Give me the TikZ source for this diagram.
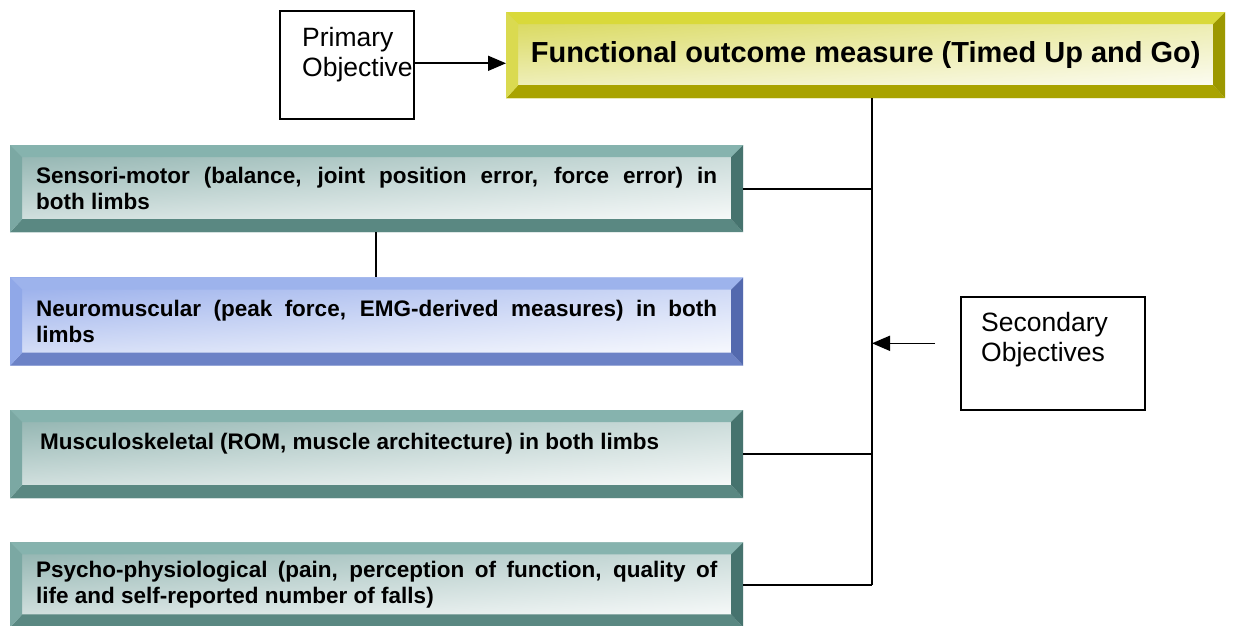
\documentclass[tikz,border=0pt]{standalone}
\usepackage{fontspec}
\setmainfont{Liberation Sans}
\usetikzlibrary{positioning,arrows.meta,calc,shadings}
\tolerance=10000
\hbadness=10000

\definecolor{tealtop}{HTML}{86B3AE}
\definecolor{tealleft}{HTML}{7BA8A3}
\definecolor{tealbot}{HTML}{5A8882}
\definecolor{tealright}{HTML}{46736E}
\definecolor{tealin}{HTML}{8AAFAB}
\definecolor{bluetop}{HTML}{9DB3EC}
\definecolor{blueleft}{HTML}{90A8E8}
\definecolor{bluebot}{HTML}{6C82C6}
\definecolor{blueright}{HTML}{5369AE}
\definecolor{bluein}{HTML}{93AAEA}
\definecolor{yeltop}{HTML}{D9D93A}
\definecolor{yelleft}{HTML}{DADA50}
\definecolor{yelbot}{HTML}{A9A300}
\definecolor{yelright}{HTML}{9C9800}
\definecolor{yelin}{HTML}{D6D650}

\begin{document}
\begin{tikzpicture}[
    x=1pt, y=-1pt,
    >={Triangle[length=18pt,width=15pt]},
    conn/.style={line width=1.6pt},
    objbox/.style={draw, line width=1.6pt, anchor=north west, inner sep=0pt},
    objtext/.style={anchor=north west, inner sep=0pt, align=left,
      font=\fontsize{26.5}{30.5}\selectfont},
    bevel/.style={fill=white, inner sep=0pt, anchor=north west,
      path picture={
        \coordinate (bva) at (path picture bounding box.north west);
        \coordinate (bvb) at (path picture bounding box.north east);
        \coordinate (bvc) at (path picture bounding box.south east);
        \coordinate (bvd) at (path picture bounding box.south west);
        \shade[upper left=#1in, upper right=#1in!50!white,
          lower left=#1in!30!white, lower right=white] (bva) rectangle (bvc);
        \fill[#1top] (bva) -- (bvb) -- ($(bvb)+(-12pt,-12pt)$) -- ($(bva)+(12pt,-12pt)$) -- cycle;
        \fill[#1bot] (bvd) -- (bvc) -- ($(bvc)+(-12pt,13pt)$) -- ($(bvd)+(12pt,13pt)$) -- cycle;
        \fill[#1left] (bva) -- ($(bva)+(12pt,-12pt)$) -- ($(bvd)+(12pt,13pt)$) -- (bvd) -- cycle;
        \fill[#1right] (bvb) -- ($(bvb)+(-12pt,-12pt)$) -- ($(bvc)+(-12pt,13pt)$) -- (bvc) -- cycle;
      }},
    aim/.style={bevel=teal, minimum width=733pt, text width=681pt, align=justify,
      font=\bfseries\fontsize{22.5}{25.5}\selectfont}
  ]
    \useasboundingbox (0,0) rectangle (1243,626);

    % primary objective
    \node[objbox, minimum width=134pt, minimum height=108pt] (prim) at (279,10) {};
    \node[objtext] (primtxt) at ($(prim.north west)+(23,17)$) {Primary\\Objective};
    \node[bevel=yel, minimum width=719pt, minimum height=86pt,
      font=\bfseries\fontsize{29}{34}\selectfont] (tug) at (506,12)
      {Functional outcome measure (Timed Up and Go)};

    % secondary objectives
    \node[aim, minimum height=87pt] (sens) at (10,145)
      {Sensori-motor (balance, joint position error, force error) in\linebreak both limbs};
    \node[aim, bevel=blue, minimum height=88pt, below=45pt of sens.south west, anchor=north west] (neuro)
      {Neuromuscular (peak force, EMG-derived measures) in both\linebreak limbs};
    \node[aim, minimum height=88pt, below=44pt of neuro.south west, anchor=north west] (musc)
      {\hspace*{4pt}Musculoskeletal (ROM, muscle architecture) in both limbs\newline\mbox{}};
    \node[aim, minimum height=85pt, below=44pt of musc.south west, anchor=north west] (psych)
      {Psycho-physiological (pain, perception of function, quality of\linebreak life and self-reported number of falls)};

    \node[objbox, minimum width=184pt, minimum height=113pt] (sec) at (960,296) {};
    \node[objtext] (sectxt) at ($(sec.north west)+(21,16)$) {Secondary\\Objectives};

    \coordinate (trunk) at (872,0);
    \coordinate (link) at (376,0);
    \coordinate (priout) at ($(prim.east)+(0,-1.5)$);
    \coordinate (secin) at ($(sec.west)+(-25,-10)$);

    \draw[conn, ->] (priout) -- (priout -| tug.west);
    \draw[conn] (tug.south -| trunk) -- (psych.east -| trunk);
    \draw[conn] (sens.east) -- (sens.east -| trunk);
    \draw[conn] (musc.east) -- (musc.east -| trunk);
    \draw[conn] (psych.east) -- (psych.east -| trunk);
    \draw[conn] (sens.south -| link) -- (neuro.north -| link);
    \draw[conn, ->] (secin) -- (secin -| trunk);
  \end{tikzpicture}
\end{document}
